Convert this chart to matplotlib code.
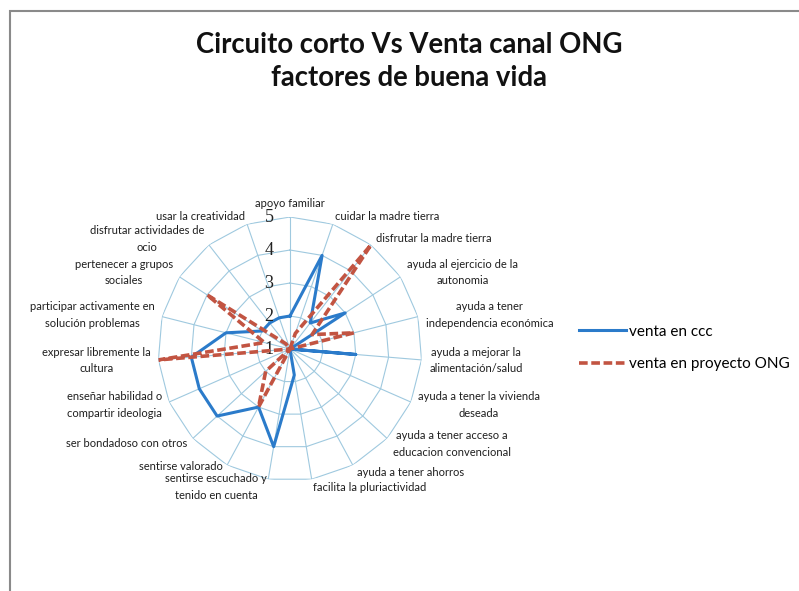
import matplotlib.pyplot as plt
import numpy as np
from matplotlib.patches import Rectangle

plt.rcParams['font.family'] = ['Lato', 'DejaVu Sans']

# Factores de buena vida (orden de las agujas del reloj desde arriba)
factores = [
    'apoyo familiar',
    'cuidar la madre tierra',
    'disfrutar la madre tierra',
    'ayuda al ejercicio de la\nautonomia',
    'ayuda a tener\nindependencia económica',
    'ayuda a mejorar la\nalimentación/salud',
    'ayuda a tener la vivienda\ndeseada',
    'ayuda a tener acceso a\neducacion convencional',
    'ayuda a tener ahorros',
    'facilita la pluriactividad',
    'sentirse escuchado y\ntenido en cuenta',
    'sentirse valorado',
    'ser bondadoso con otros',
    'enseñar habilidad o\ncompartir ideologia',
    'expresar libremente la\ncultura',
    'participar activamente en\nsolución problemas',
    'pertenecer a grupos\nsociales',
    'disfrutar actividades de\nocio',
    'usar la creatividad',
]

# valores (escala 1-5)
venta_ccc = [2, 4, 2, 3, 1, 3, 1, 1, 1, 1.8, 4, 3, 4, 4, 4, 3, 2, 2, 2]
venta_ong = [1, 1.5, 5, 1.8, 3, 1, 1, 1, 1, 1, 1, 3, 2, 1, 5, 1.8, 4, 1.2, 1]
escala = [1, 2, 3, 4, 5]

color_ccc = '#2b7bca'
color_ong = '#c25442'
color_grid = '#9fc9df'

n = len(factores)
theta = np.linspace(0, 2 * np.pi, n, endpoint=False)
theta_c = np.append(theta, theta[0])

fig = plt.figure(figsize=(7.99, 5.91), dpi=100)
ax = fig.add_axes([0.1977, 0.1861, 0.3304, 0.4467], projection='polar')
ax.set_theta_offset(np.pi / 2)
ax.set_theta_direction(-1)
ax.set_ylim(escala[0], escala[-1])
ax.grid(False)
ax.spines['polar'].set_visible(False)
ax.set_xticks([])
ax.set_yticks([])
ax.patch.set_alpha(0)

# rejilla poligonal tipo Excel
for r in escala[1:]:
    ax.plot(theta_c, [r] * (n + 1), color=color_grid, lw=0.8, zorder=1)
for t in theta:
    ax.plot([t, t], [escala[0], escala[-1]], color=color_grid, lw=0.8, zorder=1)

ax.plot(theta_c, venta_ccc + venta_ccc[:1], color=color_ccc, lw=2.2,
        label='venta en ccc', zorder=3)
ax.plot(theta_c, venta_ong + venta_ong[:1], color=color_ong, lw=2.6,
        dashes=(2.4, 1.0), label='venta en proyecto ONG', zorder=4)

# etiquetas de la escala
for v in escala:
    ax.annotate(str(v), xy=(0, v), xytext=(-15, 0), textcoords='offset points',
                ha='center', va='center', fontsize=13, color='#222222',
                family='Liberation Serif', annotation_clip=False)

# etiquetas de categorias
for i, (t, lab) in enumerate(zip(theta, factores)):
    deg = np.degrees(t)
    if deg < 1:
        ha, va = 'center', 'bottom'
    elif deg < 180:
        ha, va = 'left', 'center'
    else:
        ha, va = 'right', 'center'
    dy = 4 if lab == 'sentirse valorado' else 0
    ax.annotate(lab, xy=(t, 5.24), xytext=(0, dy), textcoords='offset points',
                ha=ha, va=va, fontsize=8, color='#1e1e1e',
                multialignment='center', linespacing=1.65,
                annotation_clip=False)

fig.text(0.512, 1 - 45 / 591, 'Circuito corto Vs Venta canal ONG',
         ha='center', va='center', fontsize=19.8, fontweight='bold', color='#111111')
fig.text(0.512, 1 - 78 / 591, 'factores de buena vida',
         ha='center', va='center', fontsize=19.8, fontweight='bold', color='#111111')

ax.legend(loc='center left', bbox_to_anchor=(579 / 799, 1 - 348 / 591),
          bbox_transform=fig.transFigure, frameon=False, fontsize=11,
          handlelength=3.1, handletextpad=0.15, labelspacing=1.2,
          borderpad=0, borderaxespad=0)

# marco gris de la diapositiva
fig.add_artist(Rectangle((10 / 799, -0.05), 1.0, (591 - 11) / 591 + 0.05,
                         transform=fig.transFigure, fill=False,
                         edgecolor='#8a8a8a', lw=1.5))

fig.savefig('out.png', dpi=100, facecolor='white')
